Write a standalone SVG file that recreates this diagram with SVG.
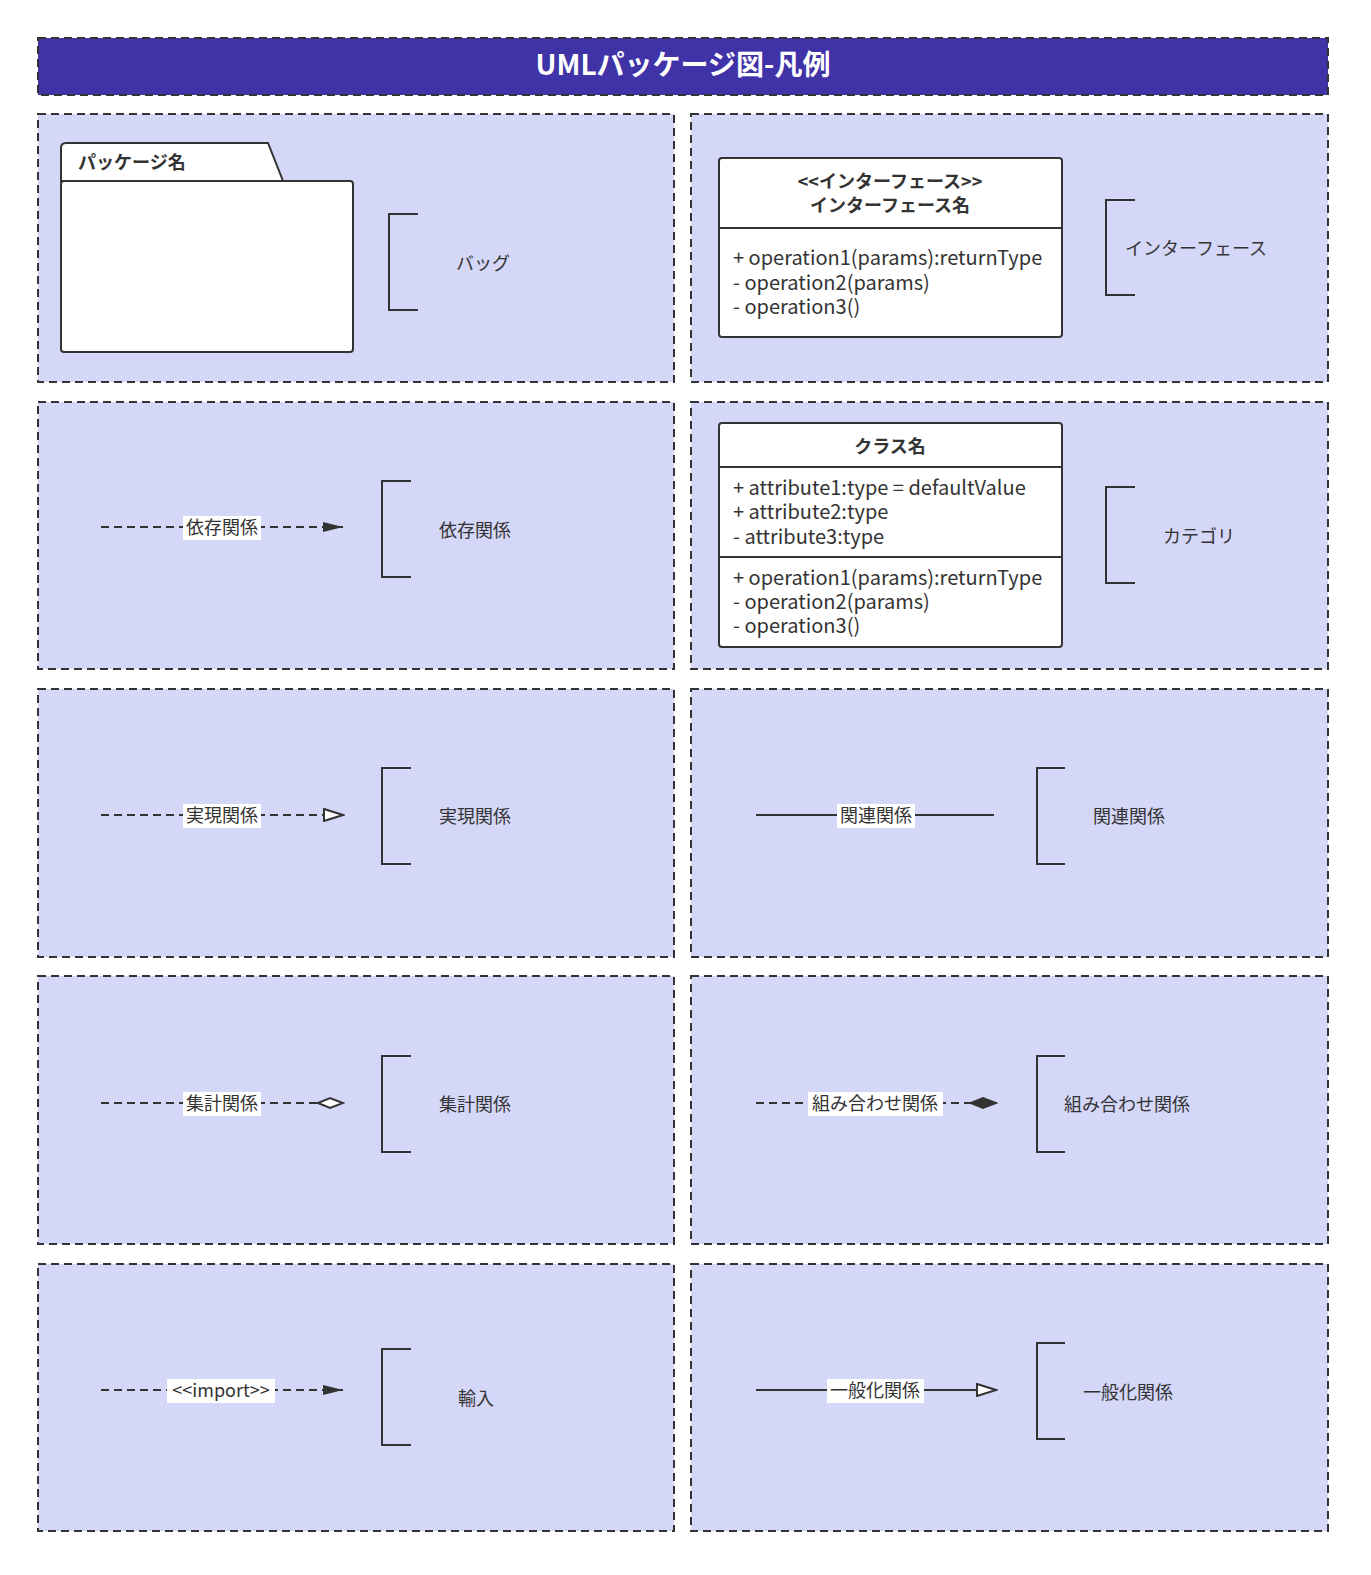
<svg xmlns="http://www.w3.org/2000/svg" width="1371" height="1575" viewBox="0 0 1371 1575">
<style>
text{font-family:"Noto Sans CJK JP","Noto Sans",sans-serif;fill:#333;font-size:18px}
.panel{fill:#d4d7f7;stroke:#333;stroke-width:2;stroke-dasharray:8 5}
.br{fill:none;stroke:#333;stroke-width:2}
.box{fill:#fff;stroke:#333;stroke-width:2}
.dl{stroke:#333;stroke-width:2;stroke-dasharray:8 5;fill:none}
.sl{stroke:#333;stroke-width:2;fill:none}
.lb{fill:#fff}
.m{font-size:20px}
.b{font-weight:bold}
</style>
<defs>
<marker id="af" markerWidth="22" markerHeight="12" refX="20" refY="6" orient="auto" markerUnits="userSpaceOnUse"><path d="M0,1 L20,6 L0,11 Z" fill="#333"/></marker>
<marker id="ao" markerWidth="22" markerHeight="14" refX="20" refY="7" orient="auto" markerUnits="userSpaceOnUse"><path d="M1,1 L20,7 L1,13 Z" fill="#fff" stroke="#333" stroke-width="2"/></marker>
<marker id="dh" markerWidth="28" markerHeight="14" refX="26" refY="7" orient="auto" markerUnits="userSpaceOnUse"><path d="M1,7 L13,2 L26,7 L13,12 Z" fill="#fff" stroke="#333" stroke-width="2"/></marker>
<marker id="df" markerWidth="28" markerHeight="14" refX="26" refY="7" orient="auto" markerUnits="userSpaceOnUse"><path d="M1,7 L13,2 L26,7 L13,12 Z" fill="#333" stroke="#333" stroke-width="2"/></marker>
</defs>
<rect width="1371" height="1575" fill="#fff"/>
<g id="title"><rect x="38" y="38" width="1290" height="57" fill="#4033a8" stroke="#333" stroke-width="2" stroke-dasharray="8 5"/>
<text x="683" y="75" text-anchor="middle" style="fill:#fff;font-size:28px;font-weight:bold">UMLパッケージ図-凡例</text></g>
<g id="panels">
<rect class="panel" x="38" y="114" width="636" height="268"/><rect class="panel" x="691" y="114" width="637" height="268"/>
<rect class="panel" x="38" y="402" width="636" height="267"/><rect class="panel" x="691" y="402" width="637" height="267"/>
<rect class="panel" x="38" y="689" width="636" height="268"/><rect class="panel" x="691" y="689" width="637" height="268"/>
<rect class="panel" x="38" y="976" width="636" height="268"/><rect class="panel" x="691" y="976" width="637" height="268"/>
<rect class="panel" x="38" y="1264" width="636" height="267"/><rect class="panel" x="691" y="1264" width="637" height="267"/>
</g>
<g id="package">
<path class="box" d="M61,181 L61,148 Q61,143 66,143 L268,143 L283,181 Z"/>
<rect class="box" x="61" y="181" width="292" height="171" rx="3"/>
<text x="78" y="169" class="b">パッケージ名</text>
<path class="br" d="M418,214 H389 V310 H418"/><text x="456" y="270">バッグ</text>
</g>
<g id="interface">
<rect class="box" x="719" y="158" width="343" height="179" rx="3"/>
<line class="sl" x1="719" y1="228" x2="1062" y2="228"/>
<text x="890" y="188" text-anchor="middle" class="b">&lt;&lt;インターフェース&gt;&gt;</text>
<text x="890" y="212" text-anchor="middle" class="b">インターフェース名</text>
<text x="733" y="265" class="m">+ operation1(params):returnType</text>
<text x="733" y="290" class="m">- operation2(params)</text>
<text x="733" y="314" class="m">- operation3()</text>
<path class="br" d="M1135,200 H1106 V295 H1135"/><text x="1125" y="255">インターフェース</text>
</g>
<g id="class">
<rect class="box" x="719" y="423" width="343" height="224" rx="3"/>
<line class="sl" x1="719" y1="467" x2="1062" y2="467"/><line class="sl" x1="719" y1="557" x2="1062" y2="557"/>
<text x="890" y="453" text-anchor="middle" class="b">クラス名</text>
<text x="733" y="495" class="m">+ attribute1:type = defaultValue</text>
<text x="733" y="519" class="m">+ attribute2:type</text>
<text x="733" y="544" class="m">- attribute3:type</text>
<text x="733" y="585" class="m">+ operation1(params):returnType</text>
<text x="733" y="609" class="m">- operation2(params)</text>
<text x="733" y="633" class="m">- operation3()</text>
<path class="br" d="M1135,487 H1106 V583 H1135"/><text x="1163" y="543">カテゴリ</text>
</g>
<g id="connectors">
<line class="dl" x1="101" y1="527" x2="343" y2="527" marker-end="url(#af)"/>
<line class="dl" x1="101" y1="815" x2="343" y2="815" marker-end="url(#ao)"/>
<line class="sl" x1="756" y1="815" x2="994" y2="815"/>
<line class="dl" x1="101" y1="1103" x2="343" y2="1103" marker-end="url(#dh)"/>
<line class="dl" x1="756" y1="1103" x2="996" y2="1103" marker-end="url(#df)"/>
<line class="dl" x1="101" y1="1390" x2="343" y2="1390" marker-end="url(#af)"/>
<line class="sl" x1="756" y1="1390" x2="996" y2="1390" marker-end="url(#ao)"/>
</g>
<g id="labels">
<rect class="lb" x="183" y="516" width="78" height="24"/><text x="222" y="534" text-anchor="middle">依存関係</text>
<rect class="lb" x="183" y="804" width="78" height="24"/><text x="222" y="822" text-anchor="middle">実現関係</text>
<rect class="lb" x="837" y="804" width="78" height="24"/><text x="876" y="822" text-anchor="middle">関連関係</text>
<rect class="lb" x="183" y="1092" width="78" height="24"/><text x="222" y="1110" text-anchor="middle">集計関係</text>
<rect class="lb" x="808" y="1092" width="135" height="24"/><text x="875" y="1110" text-anchor="middle">組み合わせ関係</text>
<rect class="lb" x="167" y="1379" width="108" height="24"/><text x="221" y="1397" text-anchor="middle">&lt;&lt;import&gt;&gt;</text>
<rect class="lb" x="827" y="1379" width="97" height="24"/><text x="875" y="1397" text-anchor="middle">一般化関係</text>
</g>
<g id="legend">
<path class="br" d="M411,481 H382 V577 H411"/><text x="439" y="537">依存関係</text>
<path class="br" d="M411,768 H382 V864 H411"/><text x="439" y="823">実現関係</text>
<path class="br" d="M1065,768 H1037 V864 H1065"/><text x="1093" y="823">関連関係</text>
<path class="br" d="M411,1056 H382 V1152 H411"/><text x="439" y="1111">集計関係</text>
<path class="br" d="M1065,1056 H1037 V1152 H1065"/><text x="1064" y="1111">組み合わせ関係</text>
<path class="br" d="M411,1349 H382 V1445 H411"/><text x="458" y="1405">輸入</text>
<path class="br" d="M1065,1343 H1037 V1439 H1065"/><text x="1083" y="1399">一般化関係</text>
</g>
</svg>
